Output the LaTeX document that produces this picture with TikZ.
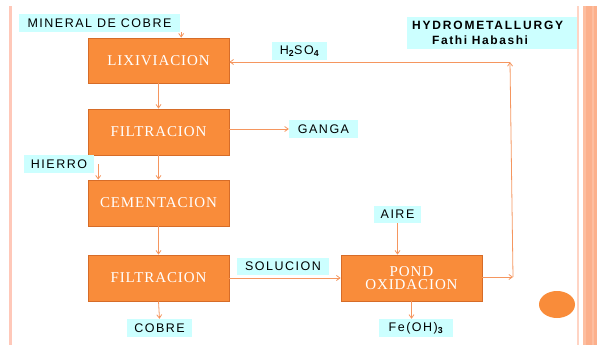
\documentclass[tikz,border=0pt]{standalone}
\usepackage{fontspec}
\usetikzlibrary{arrows.meta,calc}
\newfontfamily\lblfont[LetterSpace=12]{Liberation Sans}
\newfontfamily\boxfont[LetterSpace=6]{Liberation Serif}
\newfontfamily\ttlfont[LetterSpace=15]{Liberation Sans}
\newfontfamily\subtfont[LetterSpace=13]{Liberation Sans}
\definecolor{boxorange}{RGB}{249,140,58}
\definecolor{boxedge}{RGB}{214,108,40}
\definecolor{lblcyan}{RGB}{204,255,255}
\definecolor{arrc}{RGB}{245,150,95}
\definecolor{linepink}{RGB}{255,200,185}
\definecolor{stripeA}{RGB}{255,212,196}
\definecolor{stripeB}{RGB}{252,176,140}
\definecolor{stripeC}{RGB}{253,190,160}
\tikzset{
  procbox/.style={draw=boxedge, line width=0.8pt, fill=boxorange, text=white,
    minimum width=141pt, minimum height=46pt, inner sep=0pt, align=center,
    font={\boxfont\fontsize{15}{14.5}\selectfont}},
  lbl/.style={fill=lblcyan, inner sep=0pt, minimum height=18pt,
    font={\lblfont\fontsize{12.5}{13}\selectfont}},
  arr/.style={draw=arrc, line width=0.8pt, -{Straight Barb[length=3.5pt,width=5pt]}},
}
\begin{document}
\begin{tikzpicture}[x=1pt,y=-1pt]
\useasboundingbox (0,0) rectangle (597,345);
% borders
\fill[linepink] (8.5,6) rectangle (11.5,345);
\fill[stripeA] (576.5,6) rectangle (578.5,345);
\fill[stripeC] (583,6) rectangle (586,345);
\fill[stripeB] (586,6) rectangle (592,345);
\fill[stripeC] (592,6) rectangle (593.5,345);
\fill[stripeB] (593.5,6) rectangle (597,345);
% process boxes
\node[procbox, minimum height=45pt] (lix) at (158.5,60.5) {LIXIVIACION};
\node[procbox] (fil1) at (158.5,132) {FILTRACION};
\node[procbox] (cem) at (158.5,203) {CEMENTACION};
\node[procbox] (fil2) at (158.5,278) {FILTRACION};
\node[procbox] (pond) at (411.5,278) {POND\\[-1pt]OXIDACION};
% labels
\node[lbl, minimum width=161pt] (min) at (99.5,23) {MINERAL DE COBRE};
\node[lbl, minimum width=69pt] (ganga) at (323.5,129) {GANGA};
\node[lbl, minimum width=70pt] (hierro) at (59,164) {HIERRO};
\node[lbl, minimum width=65pt] (cobre) at (159.5,328) {COBRE};
\node[lbl, minimum width=92pt, minimum height=17pt] (sol) at (283,266.5) {SOLUCION};
\node[lbl, minimum width=47pt, minimum height=17pt] (aire) at (397.5,214.5) {AIRE};
\node[lbl, minimum width=74pt] (feoh) at (416,328) {Fe(OH)\textsubscript{\bfseries 3}};
\node[lbl, minimum width=55pt] (h2so4) at (299.5,51) {H\textsubscript{\bfseries 2}SO\textsubscript{\bfseries 4}};
% title
\node[fill=lblcyan, minimum width=170pt, minimum height=32pt, inner sep=0pt] (title) at (492,33) {};
\node[anchor=west, inner sep=0pt, font={\ttlfont\bfseries\fontsize{12}{13}\selectfont}] (t1) at (412,25) {HYDROMETALLURGY};
\node[anchor=west, inner sep=0pt, font={\subtfont\bfseries\fontsize{12}{13}\selectfont}] (t2) at (432,40) {Fathi Habashi};
% circle
\fill[boxorange] (557,304.5) ellipse [x radius=18, y radius=13.5];
% connectors
\coordinate (minA) at ($(min.south east)+(1,0)$);
\draw[arr] (minA) -- (minA |- lix.north);
\draw[arr] (lix.south) -- (fil1.north);
\draw[arr] (fil1.east |- ganga.west) -- (ganga.west);
\coordinate (hA) at ($(hierro.east)+(4,0)$);
\draw[arr] (hA) -- (hA |- cem.north);
\draw[arr] (fil1.south) -- (cem.north);
\draw[arr] (cem.south) -- (fil2.north);
\draw[arr] (fil2.south) -- (cobre.north);
\draw[arr] (fil2.east) -- (pond.west);
\draw[arr] (aire.south) -- (aire.south |- pond.north);
\draw[arr] (pond.south) -- (pond.south |- feoh.north);
\coordinate (c1) at (513,277);
\coordinate (c2) at (510,62);
\draw[arr] (pond.east |- c1) -- (c1);
\draw[arr] (c1) -- (c2);
\draw[arr] (c2) -- (lix.east |- c2);
\end{tikzpicture}
\end{document}
